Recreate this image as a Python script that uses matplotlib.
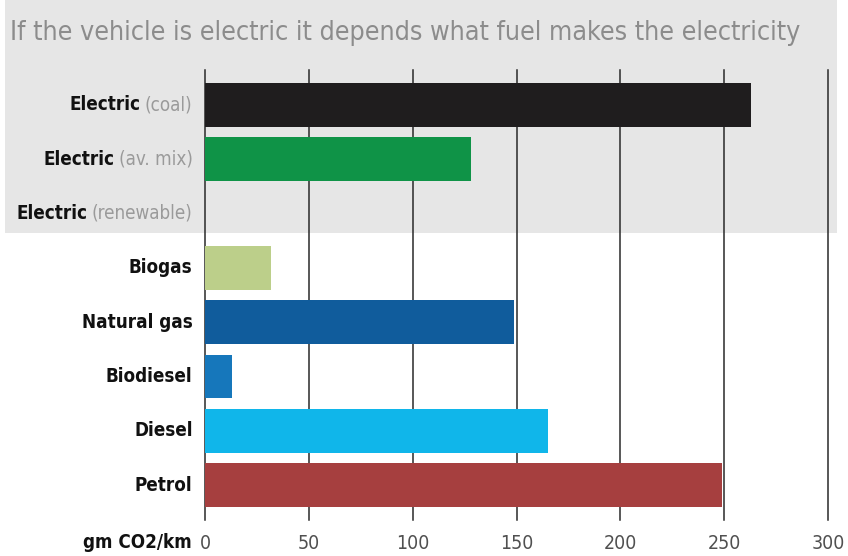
import matplotlib
matplotlib.use("Agg")
import matplotlib.pyplot as plt
from matplotlib.patches import Rectangle

# ============== DATA ==============
categories = ['Electric', 'Electric', 'Electric', 'Biogas', 'Natural gas',
              'Biodiesel', 'Diesel', 'Petrol']
qualifiers = ['(coal)', '(av. mix)', '(renewable)', '', '', '', '', '']
emissions = [263, 128, 0, 32, 149, 13, 165, 249]  # gm CO2/km
bar_colors = ['#1f1d1e', '#0f9347', '#dddddd', '#bccf8a', '#105c9c',
              '#1677bb', '#10b6ea', '#a63f3f']
x_ticks = [0, 50, 100, 150, 200, 250, 300]
title = 'If the vehicle is electric it depends what fuel makes the electricity'
x_label = 'gm CO2/km'
# ==================================

plt.rcParams['font.family'] = ['DejaVu Sans']
plt.rcParams['font.stretch'] = 'condensed'

W, H = 848, 556
fig = plt.figure(figsize=(W / 100, H / 100), dpi=100)
fig.patch.set_facecolor('white')

# grey panel behind the electric rows and title
fig.patches.append(Rectangle((5 / W, 1 - 233 / H), 832 / W, 233 / H,
                             transform=fig.transFigure, facecolor='#e6e6e6',
                             edgecolor='none', zorder=-5))

fig.text(10 / W, 1 - 33 / H, title, color='#8c8c8c', fontsize=19.3,
         ha='left', va='center')

ax = fig.add_axes([205 / W, 1 - 520 / H, 623 / W, 450 / H])
ax.set_facecolor('none')

y = list(range(len(categories)))
ax.barh(y, emissions, height=0.8, color=bar_colors, zorder=3)

ax.set_xlim(0, 300)
ax.set_ylim(len(categories) - 0.36, -0.64)
ax.set_xticks(x_ticks)
ax.set_yticks([])
ax.grid(axis='x', color='#2a2a2a', linewidth=1.1, zorder=1)
for gl in ax.get_xgridlines():
    gl.set_clip_on(False)
ax.tick_params(axis='x', length=0, pad=10, labelsize=14, labelcolor='#505050')
for s in ax.spines.values():
    s.set_visible(False)

# row labels: bold black name + grey qualifier
for i, (cat, qual) in enumerate(zip(categories, qualifiers)):
    if qual:
        q = ax.annotate(qual, xy=(0, i), xytext=(-9, 0), textcoords='offset points',
                        ha='right', va='center', color='#9a9a9a', fontsize=13.5)
        ax.annotate(cat, xy=(0, 0.5), xycoords=q, xytext=(-3, 0),
                    textcoords='offset points', ha='right', va='center',
                    color='#111111', fontsize=13.5, fontweight='bold')
    else:
        ax.annotate(cat, xy=(0, i), xytext=(-9, 0), textcoords='offset points',
                    ha='right', va='center', color='#111111', fontsize=13.5,
                    fontweight='bold')

fig.text(192 / W, 1 - 543 / H, x_label, color='#111111', fontsize=13.5,
         fontweight='bold', ha='right', va='center')

fig.savefig('out.png', dpi=100)
